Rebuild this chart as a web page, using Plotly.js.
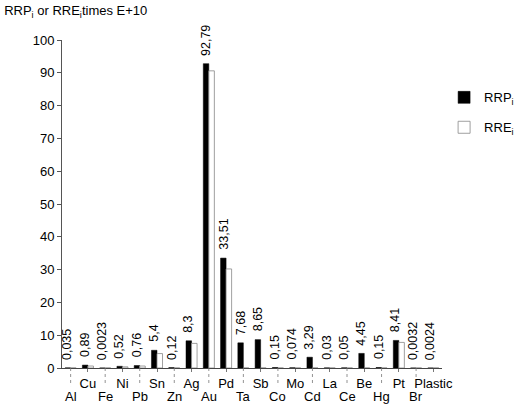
<!DOCTYPE html>
<html>
<head>
<meta charset="utf-8">
<script src="https://cdn.plot.ly/plotly-3.0.1.min.js"></script>
<style>html,body{margin:0;padding:0;background:#fff}#chart{width:517px;height:404px}</style>
</head>
<body>
<div id="chart"></div>
<script>
var categories = ['Al','Cu','Fe','Ni','Pb','Sn','Zn','Ag','Au','Pd','Ta','Sb','Co','Mo','Cd','La','Ce','Be','Hg','Pt','Br','Plastic'];
var rrpValues = [0.035,0.89,0.0023,0.52,0.76,5.4,0.12,8.3,92.79,33.51,7.68,8.65,0.15,0.074,3.29,0.03,0.05,4.45,0.15,8.41,0.0032,0.0024];
var rrpLabels = ['0,035','0,89','0,0023','0,52','0,76','5,4','0,12','8,3','92,79','33,51','7,68','8,65','0,15','0,074','3,29','0,03','0,05','4,45','0,15','8,41','0,0032','0,0024'];
var rreValues = [0,0.6,0,0.35,0.6,4.4,0,7.5,90.6,30.2,0,0,0,0,0,0,0,0,0,7.8,0,0];
var yTicks = [0,10,20,30,40,50,60,70,80,90,100];

var font = 'Liberation Sans, Arial, Helvetica, sans-serif';
var upperCats = categories.filter(function(c,i){return i%2===1;});
var lowerCats = categories.filter(function(c,i){return i%2===0;});
var catRange = [-0.5, categories.length - 0.5];

var shapes = lowerCats.map(function(c){
  return {type:'line', xref:'x', yref:'paper', x0:c, x1:c, y0:0, y1:-0.055,
          line:{color:'#777', width:0.8, dash:'dot'}};
});

var annotations = categories.map(function(c,i){
  return {x:c, y:rrpValues[i], xref:'x', yref:'y', text:rrpLabels[i], showarrow:false,
          textangle:-90, xanchor:'center', yanchor:'bottom', xshift:-3, yshift:6,
          font:{family:font, size:12.5, color:'#000'}};
}).concat(lowerCats.map(function(c){
  return {x:c, y:0, xref:'x', yref:'paper', text:c, showarrow:false,
          xanchor:'center', yanchor:'top', yshift:-19,
          font:{family:font, size:13, color:'#000'}};
}));

var traces = [
  {type:'bar', name:'RRP<sub>i</sub>', x:categories, y:rrpValues,
   marker:{color:'#000', line:{color:'#000', width:0.5}},
   legendgroup:'a', hoverinfo:'none'},
  {type:'bar', name:'RRE<sub>i</sub>', x:categories, y:rreValues,
   marker:{color:'#fff', line:{color:'#888', width:0.8}},
   legendgroup:'b', hoverinfo:'none'}
];

var layout = {
  width:517, height:404,
  margin:{l:62, r:75, t:40, b:36, autoexpand:false},
  paper_bgcolor:'#fff', plot_bgcolor:'#fff',
  font:{family:font, size:13, color:'#000'},
  title:{text:'RRP<sub>i</sub> or RRE<sub>i</sub>times E+10', x:0.008, xanchor:'left', xref:'container',
         y:0.985, yanchor:'top', yref:'container', font:{family:font, size:13, color:'#000'}},
  barmode:'group', bargap:0.36, bargroupgap:0,
  showlegend:true,
  legend:{xref:'container', yref:'container', x:0.859, xanchor:'left', y:0.796, yanchor:'top',
          traceorder:'grouped', tracegroupgap:10,
          font:{family:font, size:13, color:'#000'}, bgcolor:'rgba(0,0,0,0)'},
  xaxis:{type:'category', range:catRange, tickvals:upperCats, ticktext:upperCats, showgrid:false, zeroline:false,
         showline:true, linecolor:'#444', linewidth:1, ticks:'outside', ticklen:3, tickcolor:'#777',
         tickfont:{family:font, size:13, color:'#000'}, tickangle:0, automargin:false},
  yaxis:{range:[0,100], tickvals:yTicks, showgrid:false, zeroline:false, showline:true,
         linecolor:'#555', linewidth:1, ticks:'outside', ticklen:4, tickcolor:'#555',
         tickfont:{family:font, size:13, color:'#000'}, automargin:false},
  shapes:shapes,
  annotations:annotations
};

Plotly.newPlot('chart', traces, layout, {displayModeBar:false, staticPlot:true});
</script>
</body>
</html>
